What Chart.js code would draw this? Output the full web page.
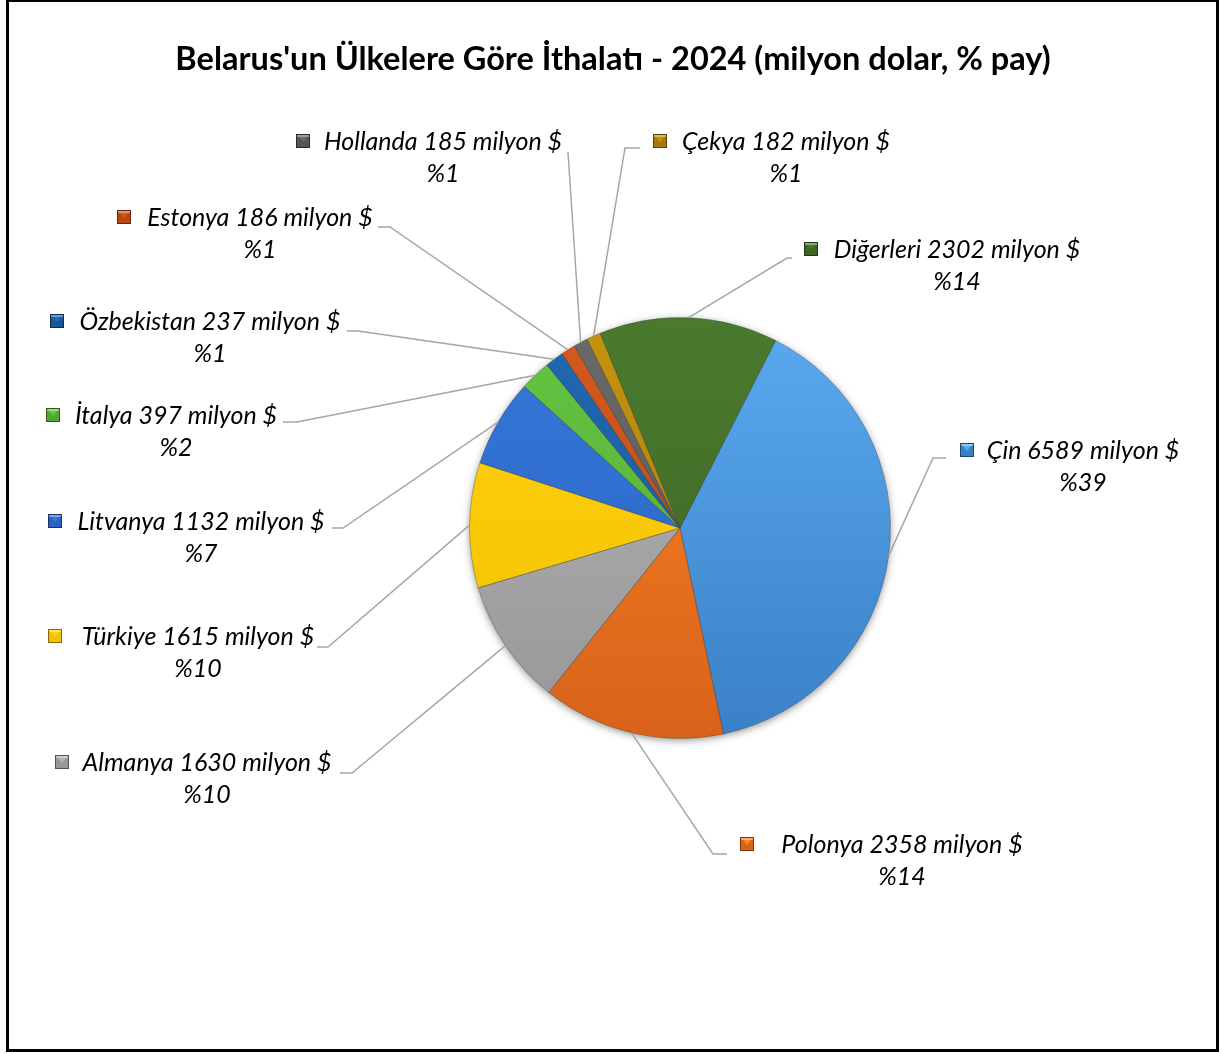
<!DOCTYPE html>
<html>
<head>
<meta charset="utf-8">
<script src="https://cdn.jsdelivr.net/npm/chart.js@4.4.0/dist/chart.umd.min.js"></script>
<style>
  html, body { margin: 0; padding: 0; background: #fff; }
  #wrap { position: relative; width: 1223px; height: 1054px; }
  #frame { position: absolute; left: 6px; top: -1px; width: 1213px; height: 1053px;
           box-sizing: border-box; border: 3px solid #000; pointer-events: none; }
</style>
</head>
<body>
<div id="wrap">
  <canvas id="chart1"></canvas>
  <div id="frame"></div>
</div>
<script>
// data (milyon $)
const countries = ['Çin', 'Polonya', 'Almanya', 'Türkiye', 'Litvanya', 'İtalya',
                   'Özbekistan', 'Estonya', 'Hollanda', 'Çekya', 'Diğerleri'];
const imports = [6589, 2358, 1630, 1615, 1132, 397, 237, 186, 185, 182, 2302];
const titleText = "Belarus'un Ülkelere Göre İthalatı - 2024 (milyon dolar, % pay)";

// slice colours: top / bottom of the gradient
const colorsTop = ['#5aaaf0', '#fa8424', '#b4b4b4', '#ffd20e', '#3578da', '#66c544',
                   '#2169b2', '#d45a1e', '#6a6a6a', '#c4940f', '#4a7a2e'];
const colorsBottom = ['#3a80c6', '#d8621a', '#979797', '#f2c000', '#2a62c0', '#4fa830',
                      '#1a5594', '#b84816', '#555555', '#a67a08', '#3d6624'];

// where each data label sits (text centre, first line), the elbow of its leader line,
// the end of the short horizontal piece and the x of the little colour key
const labelLayout = [
  {cx: 1083, cy: 451, ex: 933, ey: 458, hx: 946, mx: 960},
  {cx: 902,  cy: 845, ex: 713, ey: 854, hx: 727, mx: 740},
  {cx: 207,  cy: 763, ex: 352, ey: 773, hx: 340, mx: 55},
  {cx: 198,  cy: 637, ex: 328, ey: 647, hx: 317, mx: 48},
  {cx: 201,  cy: 522, ex: 343, ey: 528, hx: 332, mx: 48},
  {cx: 176,  cy: 416, ex: 297, ey: 422, hx: 283, mx: 46},
  {cx: 210,  cy: 322, ex: 358, ey: 331, hx: 347, mx: 50},
  {cx: 260,  cy: 218, ex: 390, ey: 227, hx: 378, mx: 117},
  {cx: 443,  cy: 142, ex: 568, ey: 152, hx: 568, mx: 296},
  {cx: 786,  cy: 142, ex: 625, ey: 148, hx: 640, mx: 653},
  {cx: 957,  cy: 250, ex: 787, ey: 258, hx: 792, mx: 804}
];

const total = imports.reduce((a, b) => a + b, 0);

function sliceColor(ctx) {
  const chart = ctx.chart;
  const area = chart.chartArea;
  const i = ctx.dataIndex;
  if (!area) return colorsTop[i];
  const g = chart.ctx.createLinearGradient(0, area.top, 0, area.bottom);
  g.addColorStop(0, colorsTop[i]);
  g.addColorStop(1, colorsBottom[i]);
  return g;
}

function drawKey(c, x, y, col, colDark) {
  const s = 14;
  c.fillStyle = colDark;
  c.fillRect(x, y, s, s);
  // light top facet
  c.fillStyle = col;
  c.beginPath();
  c.moveTo(x + 1, y + 1);
  c.lineTo(x + s - 1, y + 1);
  c.lineTo(x + s / 2, y + s / 2 + 1);
  c.closePath();
  c.fill();
  c.fillStyle = 'rgba(255,255,255,0.35)';
  c.fillRect(x + 1, y + 1, s - 2, 2);
  c.strokeStyle = 'rgba(0,0,0,0.45)';
  c.lineWidth = 1;
  c.strokeRect(x + 0.5, y + 0.5, s - 1, s - 1);
}

const labelPlugin = {
  id: 'pieLabels',
  beforeDatasetsDraw(chart) {
    // soft shadow under the pie
    const arc = chart.getDatasetMeta(0).data[0];
    if (!arc) return;
    const c = chart.ctx;
    c.save();
    c.shadowColor = 'rgba(0,0,0,0.5)';
    c.shadowBlur = 9;
    c.shadowOffsetY = 2;
    c.fillStyle = '#777';
    c.beginPath();
    c.arc(arc.x, arc.y, arc.outerRadius - 1, 0, Math.PI * 2);
    c.fill();
    c.restore();
  },
  afterDatasetsDraw(chart) {
    const c = chart.ctx;
    const arcs = chart.getDatasetMeta(0).data;
    c.save();
    // leader lines
    c.strokeStyle = '#a6a6a6';
    c.lineWidth = 1.5;
    arcs.forEach((arc, i) => {
      const p = arc.getProps(['x', 'y', 'startAngle', 'endAngle', 'outerRadius'], true);
      const mid = (p.startAngle + p.endAngle) / 2;
      const L = labelLayout[i];
      c.beginPath();
      c.moveTo(p.x + Math.cos(mid) * p.outerRadius, p.y + Math.sin(mid) * p.outerRadius);
      c.lineTo(L.ex, L.ey);
      c.lineTo(L.hx, L.ey);
      c.stroke();
    });
    // texts
    c.fillStyle = '#000';
    c.textAlign = 'center';
    c.textBaseline = 'middle';
    c.font = 'italic 25px Lato';
    countries.forEach((name, i) => {
      const L = labelLayout[i];
      const pct = Math.round(imports[i] / total * 100);
      c.fillText(name + ' ' + imports[i] + ' milyon $', L.cx, L.cy);
      c.fillText('%' + pct, L.cx, L.cy + 32);
      drawKey(c, L.mx, L.cy - 8, colorsTop[i], colorsBottom[i]);
      c.fillStyle = '#000';
    });
    // title
    c.font = 'bold 32.5px Lato';
    c.fillText(titleText, 613, 60);
    c.restore();
  }
};

function draw() {
  const myChart = new Chart('chart1', {
    type: 'pie',
    data: {
      labels: countries,
      datasets: [{
        data: imports,
        backgroundColor: sliceColor,
        borderColor: 'rgba(60,60,60,0.35)',
        borderWidth: 1
      }]
    },
    options: {
      responsive: true,
      maintainAspectRatio: false,
      animation: false,
      rotation: 27,
      layout: {
        padding: {left: 469, right: 332, top: 317, bottom: 315}
      },
      plugins: {
        legend: { display: false },
        tooltip: { enabled: false }
      }
    },
    plugins: [labelPlugin]
  });
}
draw();
</script>
</body>
</html>
